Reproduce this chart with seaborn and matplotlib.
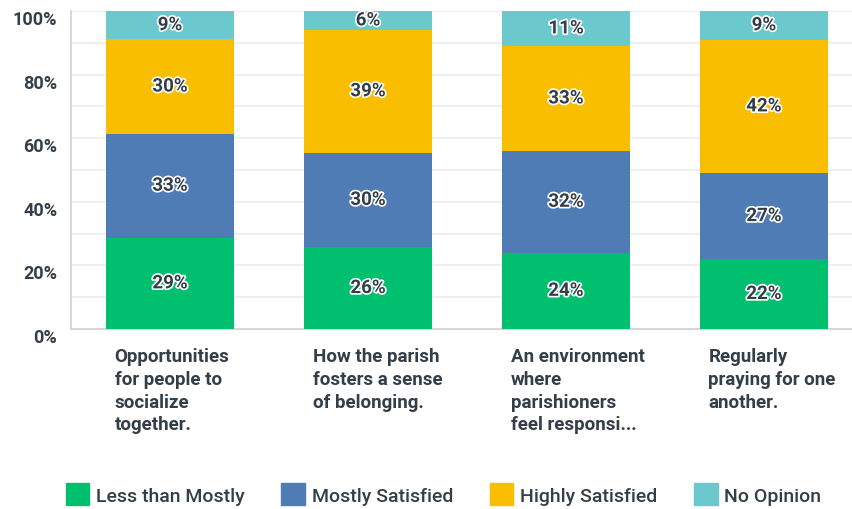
import matplotlib
matplotlib.use("Agg")
import matplotlib.pyplot as plt
import matplotlib.patheffects as pe
import matplotlib.transforms as mtransforms
from matplotlib.patches import Patch
import seaborn as sns
import pandas as pd
import numpy as np

# Chart data
categories = [
    "Opportunities\nfor people to\nsocialize\ntogether.",
    "How the parish\nfosters a sense\nof belonging.",
    "An environment\nwhere\nparishioners\nfeel responsi...",
    "Regularly\npraying for one\nanother.",
]
series = ["Less than Mostly", "Mostly Satisfied", "Highly Satisfied", "No Opinion"]
less_than_mostly = [29, 26, 24, 22]
mostly_satisfied = [33, 30, 32, 27]
highly_satisfied = [30, 39, 33, 42]
no_opinion = [9, 6, 11, 9]
colors = ["#00BF6F", "#507CB6", "#F9BE00", "#6BC8CD"]

values = np.array([less_than_mostly, mostly_satisfied, highly_satisfied, no_opinion], dtype=float)
shares = values / values.sum(axis=0) * 100
cum = shares.cumsum(axis=0)

sns.set_theme(style="white")
plt.rcParams["font.family"] = ["Roboto", "DejaVu Sans"]
text_color = "#333E48"

fig = plt.figure(figsize=(8.53, 5.10), dpi=100)
ax = fig.add_axes([71 / 853, 180 / 510, 782 / 853, 318 / 510])

# Draw stacked bars: tallest cumulative first, then overlay smaller ones
for k in range(len(series) - 1, -1, -1):
    df = pd.DataFrame({"cat": list(range(len(categories))), "val": cum[k]})
    sns.barplot(data=df, x="cat", y="val", color=colors[k], width=0.65,
                saturation=1, ax=ax, zorder=3, linewidth=0,
                order=list(range(len(categories))))

# Segment labels
for k in range(len(series)):
    for i in range(len(categories)):
        bottom = cum[k - 1][i] if k > 0 else 0
        mid = bottom + shares[k][i] / 2
        ax.text(i, mid, f"{int(values[k][i])}%", ha="center", va="center",
                fontsize=13.5, fontweight="semibold", color=text_color, zorder=5,
                path_effects=[pe.withStroke(linewidth=2.4, foreground="white")])

ax.set_xlim(-0.5, 3.45)
ax.set_ylim(0, 100)
ax.set_yticks(range(0, 101, 20))
ax.set_yticklabels([f"{v}%" for v in range(0, 101, 20)], fontsize=13,
                   fontweight="semibold", color=text_color)
ax.set_yticks(range(0, 101, 10), minor=True)
ax.yaxis.grid(True, which="both", color="#ECECEC", linewidth=1.2, zorder=0)
ax.set_axisbelow(True)
ax.tick_params(axis="y", which="both", length=0, pad=10)
ax.set_xticks([])
ax.set_xlabel("")
ax.set_ylabel("")
for s in ["top", "right"]:
    ax.spines[s].set_visible(False)
for s in ["left", "bottom"]:
    ax.spines[s].set_color("#D0D0D0")
    ax.spines[s].set_linewidth(1.2)

# y tick labels sit a little below their gridlines in the original
shift = mtransforms.ScaledTranslation(0, -6 / 100, fig.dpi_scale_trans)
for lbl in ax.get_yticklabels():
    lbl.set_transform(lbl.get_transform() + shift)

# Category labels, left aligned under each bar
for i, cat in enumerate(categories):
    ax.annotate(cat, xy=(i - 0.28, 0), xycoords=("data", "axes fraction"),
                xytext=(0, -13), textcoords="offset points", ha="left", va="top",
                fontsize=13.5, fontweight="semibold", color=text_color, linespacing=1.34)

handles = [Patch(facecolor=c, edgecolor=c, label=s) for c, s in zip(colors, series)]
fig.legend(handles=handles, loc="center", bbox_to_anchor=(0.52, 15 / 510),
           ncol=4, frameon=False, handlelength=1.2, handleheight=1.3,
           handletextpad=0.35, columnspacing=1.9, labelcolor=text_color,
           prop={"weight": "medium", "size": 14})

fig.savefig("out.png", dpi=100)
